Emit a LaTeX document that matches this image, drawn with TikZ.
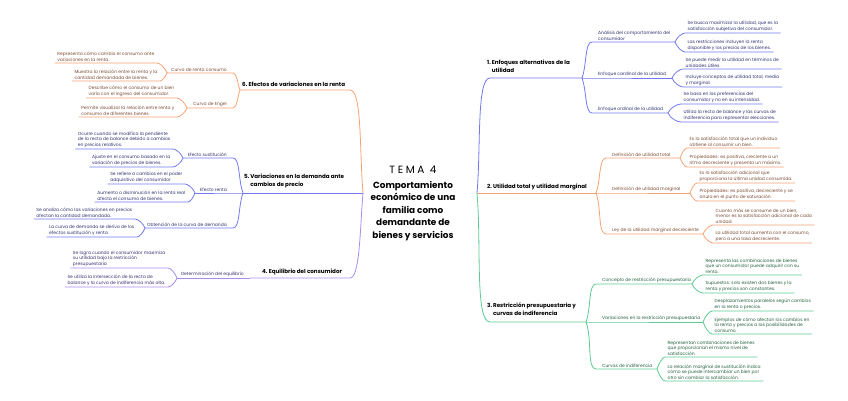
\documentclass[tikz,border=0pt]{standalone}
\usepackage{fontspec}
\setmainfont{Poppins}
\usepackage{tikz}
\usetikzlibrary{positioning}

\definecolor{naranja}{HTML}{F5A273}
\definecolor{azul}{HTML}{7279F0}
\definecolor{morado}{HTML}{A78DF1}
\definecolor{verde}{HTML}{5DCB92}
\definecolor{txtnar}{HTML}{7A4A33}
\definecolor{txtazu}{HTML}{2E306E}
\definecolor{txtmor}{HTML}{3A2E6E}
\definecolor{txtver}{HTML}{22603F}

\tikzset{
  hoja/.style={font=\fontsize{4.45}{5.6}\selectfont, align=left, inner xsep=2.5pt, inner ysep=1.2pt},
  rama/.style={font=\fontsize{4.45}{5.6}\selectfont, align=left, inner xsep=6pt, inner ysep=1.5pt},
  tema/.style={font=\fontsize{5.6}{7.6}\selectfont\bfseries, align=left, inner sep=1pt},
  titulo/.style={font=\fontsize{8.9}{12.5}\selectfont\bfseries, align=center, inner sep=0pt},
  lnar/.style={draw=naranja, line width=0.8pt},
  lazu/.style={draw=azul, line width=0.8pt},
  lmor/.style={draw=morado, line width=0.8pt},
  lver/.style={draw=verde, line width=0.8pt},
  rup/.style={out=70, in=180, in looseness=0.5},
  rdn/.style={out=-70, in=180, in looseness=0.5},
  lup/.style={out=110, in=0, in looseness=0.5},
  ldn/.style={out=-110, in=0, in looseness=0.5}
}

\begin{document}
\begin{tikzpicture}[x=1pt,y=-1pt]
\useasboundingbox (0,0) rectangle (848,400);

% centro
\node[inner sep=0pt, font=\fontsize{10.5}{12}\selectfont\addfontfeatures{LetterSpace=25}] (tema4) at (413,170) {TEMA 4};
\node[titulo] (titulo) at (413,211) {Comportamiento\\económico de una\\familia como\\demandante de\\bienes y servicios};
\coordinate (oi) at (363,193);
\coordinate (od) at (477,193);

% 6. Efectos de variaciones en la renta
\coordinate (j6) at (240,90);
\coordinate (j6a) at (167,73);
\coordinate (j6b) at (187,108);
\node[tema, anchor=south west] (t6) at (241,88) {6.\ Efectos de variaciones en la renta};
\draw[lnar] (oi) to[out=95, in=0, in looseness=0.3] (350,90) -- (j6);
\node[rama, text=txtnar, anchor=south east] (r6a) at (233,73) {Curva de renta consumo};
\node[rama, text=txtnar, anchor=south east] (r6b) at (233,108) {Curva de Engel};
\draw[lnar] (j6) to[lup] (r6a.south east) -- (j6a);
\draw[lnar] (j6) to[ldn] (r6b.south east) -- (j6b);
\node[hoja, text=txtnar, anchor=south east] (h6a1) at (157,63) {Representa cómo cambia el consumo ante\\variaciones en la renta.};
\node[hoja, text=txtnar, anchor=south east] (h6a2) at (160,81) {Muestra la relación entre la renta y la\\cantidad demandada de bienes.};
\node[hoja, text=txtnar, anchor=south east] (h6b1) at (177,98) {Describe cómo el consumo de un bien\\varía con el ingreso del consumidor.};
\node[hoja, text=txtnar, anchor=south east] (h6b2) at (177,117) {Permite visualizar la relación entre renta y\\consumo de diferentes bienes.};
\draw[lnar] (j6a) to[lup] (h6a1.south east) -- (h6a1.south west);
\draw[lnar] (j6a) to[ldn] (h6a2.south east) -- (h6a2.south west);
\draw[lnar] (j6b) to[lup] (h6b1.south east) -- (h6b1.south west);
\draw[lnar] (j6b) to[ldn] (h6b2.south east) -- (h6b2.south west);

% 5. Variaciones en la demanda
\coordinate (j5) at (243,193);
\coordinate (j5a) at (183,158);
\coordinate (j5b) at (195,193);
\coordinate (j5c) at (145,228);
\node[tema, anchor=south west] (t5) at (243,190) {\begin{tabular}{@{}l@{\,}l@{}}5. & Variaciones en la demanda ante\\ & cambios de precio\end{tabular}};
\draw[lazu] (oi) -- (j5);
\node[rama, text=txtazu, anchor=south east] (r5a) at (233,158) {Efecto sustitución};
\node[rama, text=txtazu, anchor=south east] (r5b) at (233,193) {Efecto renta};
\node[rama, text=txtazu, anchor=south east] (r5c) at (233,228) {Obtención de la curva de demanda};
\draw[lazu] (j5) to[lup] (r5a.south east) -- (j5a);
\draw[lazu] (j5) -- (r5b.south east) -- (j5b);
\draw[lazu] (j5) to[ldn] (r5c.south east) -- (j5c);
\node[hoja, text=txtazu, anchor=south east] (h5a1) at (173,149) {Ocurre cuando se modifica la pendiente\\de la recta de balance debido a cambios\\en precios relativos.};
\node[hoja, text=txtazu, anchor=south east] (h5a2) at (173,167) {Ajuste en el consumo basado en la\\variación de precios de bienes.};
\node[hoja, text=txtazu, anchor=south east] (h5b1) at (185,184) {Se refiere a cambios en el poder\\adquisitivo del consumidor};
\node[hoja, text=txtazu, anchor=south east] (h5b2) at (188,202) {Aumento o disminución en la renta real\\afecta el consumo de bienes.};
\node[hoja, text=txtazu, anchor=south east] (h5c1) at (135,219) {Se analiza cómo las variaciones en precios\\afectan la cantidad demandada.};
\node[hoja, text=txtazu, anchor=south east] (h5c2) at (137,237) {La curva de demanda se deriva de los\\efectos sustitución y renta.};
\draw[lazu] (j5a) to[lup] (h5a1.south east) -- (h5a1.south west);
\draw[lazu] (j5a) to[ldn] (h5a2.south east) -- (h5a2.south west);
\draw[lazu] (j5b) to[lup] (h5b1.south east) -- (h5b1.south west);
\draw[lazu] (j5b) to[ldn] (h5b2.south east) -- (h5b2.south west);
\draw[lazu] (j5c) to[lup] (h5c1.south east) -- (h5c1.south west);
\draw[lazu] (j5c) to[ldn] (h5c2.south east) -- (h5c2.south west);

% 4. Equilibrio del consumidor
\coordinate (j4) at (250,278);
\coordinate (j4a) at (177,278);
\node[tema, anchor=south west] (t4) at (261,276) {4.\ Equilibrio del consumidor};
\draw[lmor] (oi) to[out=-95, in=0, in looseness=0.3] (350,278) -- (j4);
\node[rama, text=txtmor, anchor=south east] (r4a) at (j4) {Determinación del equilibrio};
\draw[lmor] (j4) -- (j4a);
\node[hoja, text=txtmor, anchor=south east] (h4a1) at (168,268) {Se logra cuando el consumidor maximiza\\su utilidad bajo la restricción\\presupuestaria};
\node[hoja, text=txtmor, anchor=south east] (h4a2) at (168,287) {Se utiliza la intersección de la recta de\\balance y la curva de indiferencia más alta.};
\draw[lmor] (j4a) to[lup] (h4a1.south east) -- (h4a1.south west);
\draw[lmor] (j4a) to[ldn] (h4a2.south east) -- (h4a2.south west);

% 1. Enfoques alternativos
\coordinate (j1) at (582,78);
\coordinate (j1a) at (675,42);
\coordinate (j1b) at (672,78);
\coordinate (j1c) at (668,113);
\node[tema, anchor=south west] (t1) at (486,76) {\begin{tabular}{@{}l@{\,}l@{}}1. & Enfoques alternativos de la\\ & utilidad\end{tabular}};
\draw[lazu] (od) to[out=85, in=180, in looseness=0.3] (490,78) -- (j1);
\node[rama, text=txtazu, anchor=south west] (r1a) at (592,42) {Análisis del comportamiento del\\consumidor};
\node[rama, text=txtazu, anchor=south west] (r1b) at (592,78) {Enfoque cardinal de la utilidad};
\node[rama, text=txtazu, anchor=south west] (r1c) at (592,113) {Enfoque ordinal de la utilidad};
\draw[lazu] (j1) to[rup] (r1a.south west) -- (j1a);
\draw[lazu] (j1) -- (r1b.south west) -- (j1b);
\draw[lazu] (j1) to[rdn] (r1c.south west) -- (j1c);
\node[hoja, text=txtazu, anchor=south west] (h1a1) at (685,33) {Se busca maximizar la utilidad, que es la\\satisfacción subjetiva del consumidor.};
\node[hoja, text=txtazu, anchor=south west] (h1a2) at (685,52) {Las restricciones incluyen la renta\\disponible y los precios de los bienes.};
\node[hoja, text=txtazu, anchor=south west] (h1b1) at (683,69) {Se puede medir la utilidad en términos de\\unidades útiles.};
\node[hoja, text=txtazu, anchor=south west] (h1b2) at (683,87) {Incluye conceptos de utilidad total, media\\y marginal.};
\node[hoja, text=txtazu, anchor=south west] (h1c1) at (681,104) {Se basa en las preferencias del\\consumidor y no en su intensidad.};
\node[hoja, text=txtazu, anchor=south west] (h1c2) at (681,122) {Utiliza la recta de balance y las curvas de\\indiferencia para representar elecciones.};
\draw[lazu] (j1a) to[rup] (h1a1.south west) -- (h1a1.south east);
\draw[lazu] (j1a) to[rdn] (h1a2.south west) -- (h1a2.south east);
\draw[lazu] (j1b) to[rup] (h1b1.south west) -- (h1b1.south east);
\draw[lazu] (j1b) to[rdn] (h1b2.south west) -- (h1b2.south east);
\draw[lazu] (j1c) to[rup] (h1c1.south west) -- (h1c1.south east);
\draw[lazu] (j1c) to[rdn] (h1c2.south west) -- (h1c2.south east);

% 2. Utilidad total y marginal
\coordinate (j2) at (596,193);
\coordinate (j2a) at (680,158);
\coordinate (j2b) at (690,193);
\coordinate (j2c) at (703,234);
\node[tema, anchor=south west] (t2) at (486,191) {2.\ Utilidad total y utilidad marginal};
\draw[lnar] (od) -- (j2);
\node[rama, text=txtnar, anchor=south west] (r2a) at (606,158) {Definición de utilidad total};
\node[rama, text=txtnar, anchor=south west] (r2b) at (606,193) {Definición de utilidad marginal};
\node[rama, text=txtnar, anchor=south west] (r2c) at (606,234) {Ley de la utilidad marginal decreciente};
\draw[lnar] (j2) to[rup] (r2a.south west) -- (j2a);
\draw[lnar] (j2) -- (r2b.south west) -- (j2b);
\draw[lnar] (j2) to[rdn] (r2c.south west) -- (j2c);
\node[hoja, text=txtnar, anchor=south west] (h2a1) at (687,148) {Es la satisfacción total que un individuo\\obtiene al consumir un bien.};
\node[hoja, text=txtnar, anchor=south west] (h2a2) at (687,167) {Propiedades: es positiva, creciente a un\\ritmo decreciente y presenta un máximo.};
\node[hoja, text=txtnar, anchor=south west] (h2b1) at (697,183) {Es la satisfacción adicional que\\proporciona la última unidad consumida.};
\node[hoja, text=txtnar, anchor=south west] (h2b2) at (697,201) {Propiedades: es positiva, decreciente y se\\anula en el punto de saturación.};
\node[hoja, text=txtnar, anchor=south west] (h2c1) at (713,225) {Cuanto más se consume de un bien,\\menor es la satisfacción adicional de cada\\unidad.};
\node[hoja, text=txtnar, anchor=south west] (h2c2) at (713,243) {La utilidad total aumenta con el consumo,\\pero a una tasa decreciente.};
\draw[lnar] (j2a) to[rup] (h2a1.south west) -- (h2a1.south east);
\draw[lnar] (j2a) to[rdn] (h2a2.south west) -- (h2a2.south east);
\draw[lnar] (j2b) to[rup] (h2b1.south west) -- (h2b1.south east);
\draw[lnar] (j2b) to[rdn] (h2b2.south west) -- (h2b2.south east);
\draw[lnar] (j2c) to[rup] (h2c1.south west) -- (h2c1.south east);
\draw[lnar] (j2c) to[rdn] (h2c2.south west) -- (h2c2.south east);

% 3. Restriccion presupuestaria
\coordinate (j3) at (586,322);
\coordinate (j3a) at (692,284);
\coordinate (j3b) at (703,322);
\coordinate (j3c) at (657,369);
\node[tema, anchor=south west] (t3) at (486,319) {\begin{tabular}{@{}l@{\,}l@{}}3. & Restricción presupuestaria y\\ & curvas de indiferencia\end{tabular}};
\draw[lver] (od) to[out=-85, in=180, in looseness=0.3] (490,322) -- (j3);
\node[rama, text=txtver, anchor=south west] (r3a) at (596,284) {Concepto de restricción presupuestaria};
\node[rama, text=txtver, anchor=south west] (r3b) at (596,322) {Variaciones en la restricción presupuestaria};
\node[rama, text=txtver, anchor=south west] (r3c) at (596,369) {Curvas de indiferencia};
\draw[lver] (j3) to[rup] (r3a.south west) -- (j3a);
\draw[lver] (j3) -- (r3b.south west) -- (j3b);
\draw[lver] (j3) to[rdn] (r3c.south west) -- (j3c);
\node[hoja, text=txtver, anchor=south west] (h3a1) at (703,275) {Representa las combinaciones de bienes\\que un consumidor puede adquirir con su\\renta.};
\node[hoja, text=txtver, anchor=south west] (h3a2) at (703,293) {Supuestos: solo existen dos bienes y la\\renta y precios son constantes.};
\node[hoja, text=txtver, anchor=south west] (h3b1) at (712,311) {Desplazamientos paralelos según cambios\\en la renta o precios.};
\node[hoja, text=txtver, anchor=south west] (h3b2) at (712,334) {Ejemplos de cómo afectan los cambios en\\la renta y precios a las posibilidades de\\consumo.};
\node[hoja, text=txtver, anchor=south west] (h3c1) at (665,357) {Representan combinaciones de bienes\\que proporcionan el mismo nivel de\\satisfacción.};
\node[hoja, text=txtver, anchor=south west] (h3c2) at (665,381) {La relación marginal de sustitución indica\\cómo se puede intercambiar un bien por\\otro sin cambiar la satisfacción.};
\draw[lver] (j3a) to[rup] (h3a1.south west) -- (h3a1.south east);
\draw[lver] (j3a) to[rdn] (h3a2.south west) -- (h3a2.south east);
\draw[lver] (j3b) to[rup] (h3b1.south west) -- (h3b1.south east);
\draw[lver] (j3b) to[rdn] (h3b2.south west) -- (h3b2.south east);
\draw[lver] (j3c) to[rup] (h3c1.south west) -- (h3c1.south east);
\draw[lver] (j3c) to[rdn] (h3c2.south west) -- (h3c2.south east);
\end{tikzpicture}
\end{document}
